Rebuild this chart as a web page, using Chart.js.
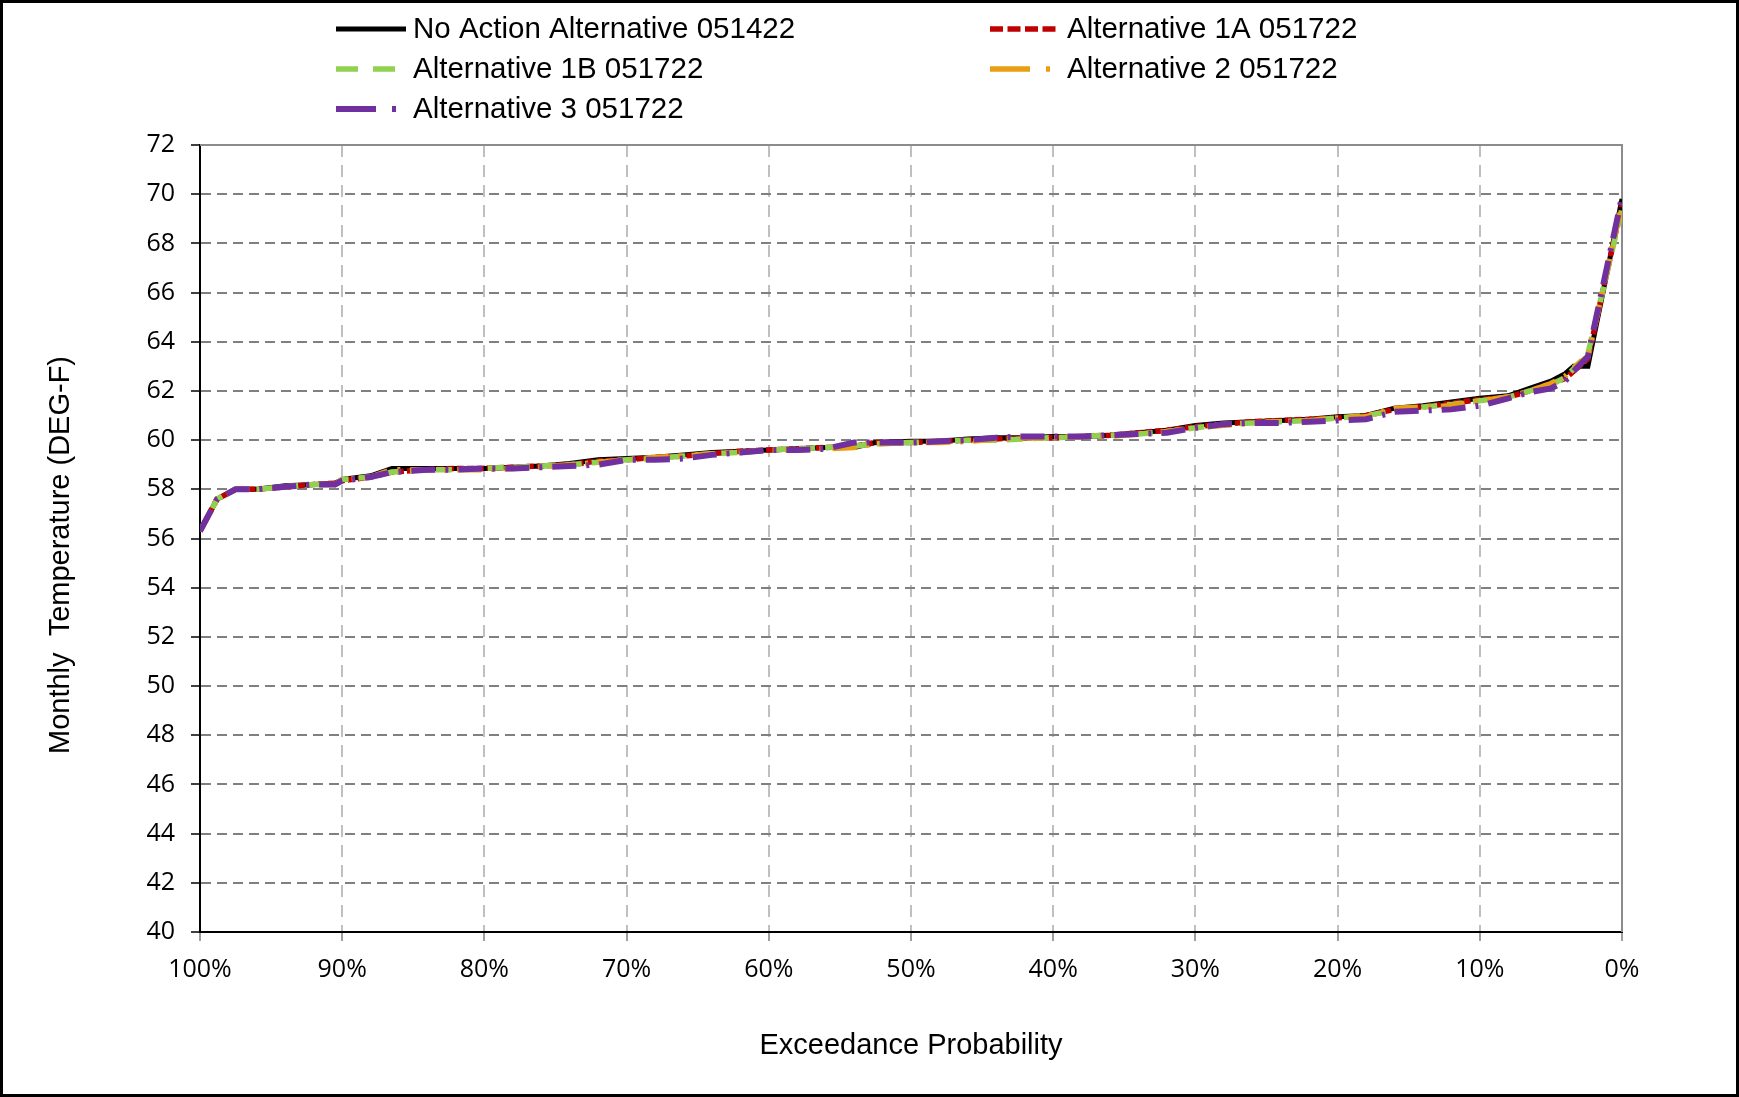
<!DOCTYPE html>
<html>
<head>
<meta charset="utf-8">
<script src="https://cdn.jsdelivr.net/npm/chart.js@4.4.1/dist/chart.umd.min.js"></script>
<style>
  html, body { margin: 0; padding: 0; background: #fff; }
  #wrap { width: 1739px; height: 1097px; }
</style>
</head>
<body>
<div id="wrap"><canvas id="chartExceedance" width="1739" height="1097"></canvas></div>
<script>
// exceedance probability (%) shared by all series
const exceedance = [100, 98.8, 97.5, 96, 94, 92, 90.5, 90, 88, 86.5,
    84, 82, 80, 78, 76, 74, 72, 70, 68, 66,
    64, 62, 60, 58, 56, 54, 52.5, 50, 48, 46,
    44, 42, 40, 38, 36, 34, 32, 30, 28, 26,
    24, 22, 20, 18, 16, 14, 12, 10, 8, 6.5,
    5, 4, 3.4, 2.4, 0];

const noAction = [56.3, 57.6, 58.0, 58.0, 58.15, 58.2, 58.25, 58.4, 58.55, 58.85,
    58.85, 58.85, 58.85, 58.9, 58.95, 59.05, 59.2, 59.25, 59.3, 59.4,
    59.5, 59.55, 59.6, 59.65, 59.7, 59.7, 59.9, 59.95, 59.95, 60.05,
    60.1, 60.1, 60.15, 60.15, 60.2, 60.3, 60.4, 60.6, 60.7, 60.75,
    60.8, 60.85, 60.95, 61.0, 61.3, 61.4, 61.55, 61.7, 61.8, 62.1,
    62.4, 62.7, 63.0, 63.0, 69.8];

const alt1A = [56.3, 57.6, 58.0, 58.0, 58.1, 58.2, 58.25, 58.35, 58.5, 58.7,
    58.8, 58.85, 58.85, 58.9, 58.95, 59.0, 59.15, 59.2, 59.3, 59.35,
    59.45, 59.55, 59.6, 59.65, 59.7, 59.75, 59.9, 59.9, 59.95, 60.0,
    60.05, 60.1, 60.1, 60.15, 60.2, 60.3, 60.4, 60.55, 60.65, 60.75,
    60.8, 60.85, 60.9, 61.0, 61.25, 61.35, 61.5, 61.65, 61.75, 62.0,
    62.3, 62.5, 62.8, 63.3, 69.6];

const alt1B = [56.3, 57.6, 58.0, 58.0, 58.1, 58.2, 58.2, 58.4, 58.5, 58.7,
    58.8, 58.8, 58.85, 58.9, 58.95, 59.0, 59.1, 59.2, 59.25, 59.35,
    59.45, 59.5, 59.6, 59.65, 59.7, 59.75, 59.85, 59.9, 59.95, 60.0,
    60.0, 60.05, 60.1, 60.15, 60.2, 60.25, 60.35, 60.5, 60.65, 60.7,
    60.75, 60.8, 60.9, 61.0, 61.2, 61.35, 61.45, 61.6, 61.75, 62.0,
    62.25, 62.55, 62.9, 63.5, 69.4];

const alt2 = [56.3, 57.6, 58.0, 58.0, 58.1, 58.2, 58.2, 58.4, 58.5, 58.8,
    58.8, 58.8, 58.8, 58.85, 58.9, 59.0, 59.1, 59.2, 59.3, 59.35,
    59.45, 59.5, 59.6, 59.6, 59.65, 59.7, 59.85, 59.9, 59.9, 59.95,
    60.05, 60.1, 60.1, 60.15, 60.15, 60.25, 60.35, 60.5, 60.6, 60.7,
    60.75, 60.8, 60.9, 60.95, 61.3, 61.35, 61.4, 61.6, 61.75, 62.0,
    62.3, 62.6, 62.95, 63.4, 69.6];

const alt3 = [56.3, 57.6, 58.0, 58.0, 58.1, 58.2, 58.2, 58.35, 58.5, 58.7,
    58.8, 58.8, 58.85, 58.85, 58.9, 58.95, 59.0, 59.2, 59.2, 59.25,
    59.4, 59.5, 59.6, 59.6, 59.65, 59.9, 59.9, 59.9, 59.95, 60.0,
    60.1, 60.15, 60.15, 60.15, 60.2, 60.25, 60.3, 60.5, 60.65, 60.7,
    60.7, 60.75, 60.8, 60.85, 61.15, 61.2, 61.25, 61.4, 61.7, 61.95,
    62.1, 62.4, 62.8, 63.4, 69.9];

const seriesNames = ['No Action Alternative 051422', 'Alternative 1A 051722', 'Alternative 1B 051722',
    'Alternative 2 051722', 'Alternative 3 051722'];
const seriesValues = [noAction, alt1A, alt1B, alt2, alt3];

const colores = ['#000000', '#C00000', '#92D050', '#E99E14', '#7030A0'];
const dashes = [[], [7, 3], [16, 10], [24, 10, 3, 10], [24, 10, 3, 10]];
const widths = [5, 5.5, 5.5, 5.5, 6];
// Excel draws the legend samples with a coarser dash
const legendDashes = [[], [13, 4.5], [22, 15], [40, 16, 4, 40], [40, 16, 4, 40]];

const FONT_SANS = "'Liberation Sans', Arial, sans-serif";
const FONT_TICK = "'Open Sans', sans-serif";

// black frame round the picture, gray outline on top/right of plot, y title
const framePlugin = {
    id: 'frame',
    beforeDatasetsDraw(chart) {
        const { ctx, chartArea: a } = chart;
        ctx.save();
        ctx.strokeStyle = '#8c8c8c';
        ctx.lineWidth = 2;
        ctx.beginPath();
        ctx.moveTo(a.left, a.top);
        ctx.lineTo(a.right, a.top);
        ctx.lineTo(a.right, a.bottom);
        ctx.stroke();
        ctx.restore();
    },
    afterDraw(chart) {
        const ctx = chart.ctx;
        ctx.save();
        ctx.strokeStyle = '#000';
        ctx.lineWidth = 6;
        ctx.strokeRect(0, 0, chart.width, chart.height);
        // y axis title, sits a bit below the plot centre like the original
        ctx.translate(61, 555);
        ctx.rotate(-Math.PI / 2);
        ctx.font = '29px ' + FONT_SANS;
        ctx.fillStyle = '#000';
        ctx.textAlign = 'center';
        ctx.textBaseline = 'middle';
        ctx.fillText('Monthly  Temperature (DEG-F)', 0, 0);
        ctx.restore();
    }
};

// two-column legend like the Excel one
const legendPlugin = {
    id: 'twoColLegend',
    afterDraw(chart) {
        const ctx = chart.ctx;
        const cols = [336, 990];
        const rows = [29, 69, 109];
        ctx.save();
        ctx.font = '29.5px ' + FONT_SANS;
        ctx.textBaseline = 'middle';
        ctx.fillStyle = '#000';
        chart.data.datasets.forEach((ds, i) => {
            const x = cols[i % 2];
            const y = rows[Math.floor(i / 2)];
            ctx.save();
            ctx.strokeStyle = ds.borderColor;
            ctx.lineWidth = ds.borderWidth;
            ctx.setLineDash(legendDashes[i]);
            ctx.beginPath();
            ctx.moveTo(x, y);
            ctx.lineTo(x + 70, y);
            ctx.stroke();
            ctx.restore();
            ctx.fillText(ds.label, x + 77, y + 1);
        });
        ctx.restore();
    }
};

new Chart(document.getElementById('chartExceedance'), {
    type: 'line',
    data: {
        datasets: seriesValues.map((vals, i) => ({
            label: seriesNames[i],
            data: exceedance.map((p, j) => ({ x: p, y: vals[j] })),
            borderColor: colores[i],
            backgroundColor: colores[i],
            borderWidth: widths[i],
            borderDash: dashes[i],
            pointRadius: 0,
            tension: 0,
            fill: false,
            order: 5 - i
        }))
    },
    options: {
        responsive: false,
        animation: false,
        layout: { padding: { top: 145, right: 117, left: 0, bottom: 0 } },
        plugins: {
            legend: { display: false },
            tooltip: { enabled: false }
        },
        scales: {
            x: {
                type: 'linear',
                reverse: true,
                min: 0,
                max: 100,
                ticks: {
                    stepSize: 10,
                    padding: 14,
                    color: '#000',
                    font: { family: FONT_TICK, size: 25 },
                    callback: v => v + '%'
                },
                grid: {
                    color: '#BFBFBF',
                    lineWidth: 2,
                    tickColor: '#7f7f7f',
                    tickLength: 9,
                    tickWidth: 1.5
                },
                border: { color: '#000', width: 2, dash: [12, 8] },
                title: {
                    display: true,
                    text: 'Exceedance Probability',
                    color: '#000',
                    font: { family: FONT_SANS, size: 29 },
                    padding: { top: 0, bottom: 34 }
                },
                afterFit(scale) { scale.height = 165; }
            },
            y: {
                min: 40,
                max: 72,
                ticks: {
                    stepSize: 2,
                    padding: 16,
                    color: '#000',
                    font: { family: FONT_TICK, size: 25 }
                },
                grid: {
                    color: '#808080',
                    lineWidth: 2,
                    tickColor: '#000',
                    tickLength: 9,
                    tickWidth: 1.5
                },
                border: { color: '#000', width: 2, dash: [10, 6] },
                afterFit(scale) { scale.width = 200; }
            }
        }
    },
    plugins: [framePlugin, legendPlugin]
});
</script>
</body>
</html>
